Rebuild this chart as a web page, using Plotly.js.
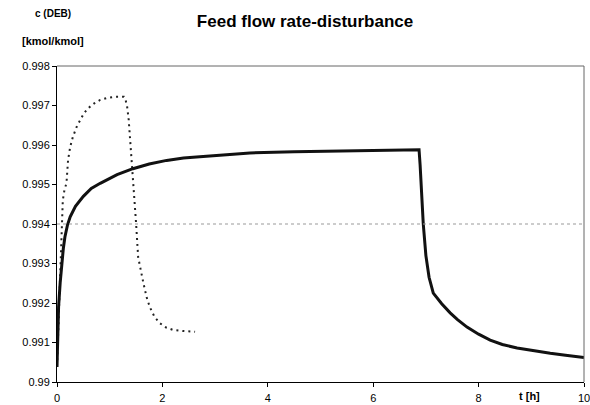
<!DOCTYPE html>
<html>
<head>
<meta charset="utf-8">
<script src="https://cdn.plot.ly/plotly-3.0.1.min.js"></script>
<style>
  html, body { margin: 0; padding: 0; background: #fff; }
  #chart { width: 590px; height: 405px; }
</style>
</head>
<body>
<div id="chart"></div>
<script>
// Solid curve: DEB concentration response to the feed flow step
const tSolid = [0, 0.01, 0.03, 0.06, 0.09, 0.12, 0.15, 0.2, 0.25, 0.35, 0.5, 0.65, 0.82, 1.0, 1.14, 1.44, 1.75, 2.08, 2.4, 2.71, 3.2, 3.66, 4.5, 5.5, 6.3, 6.87, 6.89, 6.92, 6.95, 7.0, 7.06, 7.14, 7.3, 7.46, 7.6, 7.78, 8.0, 8.22, 8.45, 8.73, 9.0, 9.36, 9.65, 9.92, 10];
const cSolid = [0.99038, 0.9910, 0.9919, 0.99251, 0.9930, 0.99338, 0.99367, 0.99398, 0.99418, 0.99445, 0.9947, 0.9949, 0.99503, 0.99516, 0.99525, 0.9954, 0.99552, 0.99561, 0.99567, 0.9957, 0.99576, 0.9958, 0.99583, 0.99585, 0.99587, 0.99588, 0.9955, 0.9948, 0.9940, 0.9932, 0.99265, 0.99225, 0.99198, 0.99175, 0.99158, 0.99139, 0.99121, 0.99106, 0.99095, 0.99086, 0.9908, 0.99073, 0.99068, 0.99063, 0.99062];

// Dotted curve: second response
const tDotted = [0, 0.03, 0.06, 0.09, 0.11, 0.14, 0.18, 0.21, 0.25, 0.3, 0.37, 0.44, 0.51, 0.59, 0.7, 0.82, 0.95, 1.1, 1.27, 1.3, 1.33, 1.36, 1.39, 1.42, 1.45, 1.5, 1.54, 1.59, 1.64, 1.7, 1.76, 1.85, 1.95, 2.07, 2.2, 2.4, 2.62];
const cDotted = [0.9904, 0.9915, 0.9927, 0.99377, 0.9946, 0.99485, 0.99504, 0.99562, 0.99595, 0.9962, 0.99645, 0.99663, 0.9968, 0.99693, 0.99705, 0.99714, 0.99719, 0.99722, 0.99722, 0.99715, 0.99698, 0.99665, 0.99613, 0.99558, 0.99504, 0.99403, 0.99316, 0.99278, 0.9925, 0.99215, 0.9919, 0.99165, 0.99149, 0.99138, 0.99132, 0.99129, 0.99127];

const xTicks = [0, 2, 4, 6, 8, 10];
const yTicks = [0.99, 0.991, 0.992, 0.993, 0.994, 0.995, 0.996, 0.997, 0.998];
const yTickText = ['0.99', '0.991', '0.992', '0.993', '0.994', '0.995', '0.996', '0.997', '0.998'];
const refLevel = 0.994;

const font = { family: 'Liberation Sans, Arial, sans-serif', color: '#000' };

const traces = [
  {
    x: tDotted, y: cDotted, mode: 'lines', type: 'scatter',
    line: { color: '#222', width: 2, dash: '2px,4px' },
    hoverinfo: 'skip'
  },
  {
    x: tSolid, y: cSolid, mode: 'lines', type: 'scatter',
    line: { color: '#111', width: 3 },
    hoverinfo: 'skip'
  }
];

const layout = {
  width: 590, height: 405,
  margin: { l: 57, r: 6, t: 66, b: 23 },
  paper_bgcolor: '#fff', plot_bgcolor: '#fff',
  showlegend: false,
  font: Object.assign({ size: 11 }, font),
  title: {
    text: '<b>Feed flow rate-disturbance</b>',
    font: Object.assign({ size: 17 }, font),
    x: 0.517, xanchor: 'center', y: 0.948, yanchor: 'middle'
  },
  xaxis: {
    range: [0, 10], tickvals: xTicks, ticktext: xTicks.map(String),
    showgrid: false, zeroline: false,
    showline: true, linecolor: '#000', linewidth: 1,
    mirror: false, ticks: 'outside', ticklen: 4, tickcolor: '#000',
    ticklabelstandoff: 2, ticklabeloverflow: 'allow',
    tickfont: Object.assign({ size: 11 }, font)
  },
  yaxis: {
    range: [0.99, 0.998], tickvals: yTicks, ticktext: yTickText,
    showgrid: false, zeroline: false,
    showline: true, linecolor: '#000', linewidth: 1,
    ticks: 'outside', ticklen: 4, tickcolor: '#000',
    tickfont: Object.assign({ size: 11 }, font)
  },
  shapes: [
    // reference level line
    { type: 'line', xref: 'paper', yref: 'y', x0: 0, x1: 1, y0: refLevel, y1: refLevel,
      line: { color: '#999', width: 1, dash: 'dot' } },
    // top and right frame
    { type: 'line', xref: 'paper', yref: 'paper', x0: 0, x1: 1, y0: 1, y1: 1,
      line: { color: '#666', width: 1 } },
    { type: 'line', xref: 'paper', yref: 'paper', x0: 1, x1: 1, y0: 0, y1: 1,
      line: { color: '#666', width: 1 } }
  ],
  annotations: [
    { text: '<b>c (DEB)</b>', xref: 'paper', yref: 'paper', x: -0.008, y: 1.165,
      xanchor: 'center', yanchor: 'middle', showarrow: false,
      font: Object.assign({ size: 10 }, font) },
    { text: '<b>[kmol/kmol]</b>', xref: 'paper', yref: 'paper', x: -0.008, y: 1.08,
      xanchor: 'center', yanchor: 'middle', showarrow: false,
      font: Object.assign({ size: 11 }, font) },
    { text: '<b>t [h]</b>', xref: 'paper', yref: 'paper', x: 0.896, y: -0.045,
      xanchor: 'center', yanchor: 'middle', showarrow: false,
      font: Object.assign({ size: 11 }, font) }
  ]
};

Plotly.newPlot('chart', traces, layout, { displayModeBar: false, staticPlot: true });
</script>
</body>
</html>
